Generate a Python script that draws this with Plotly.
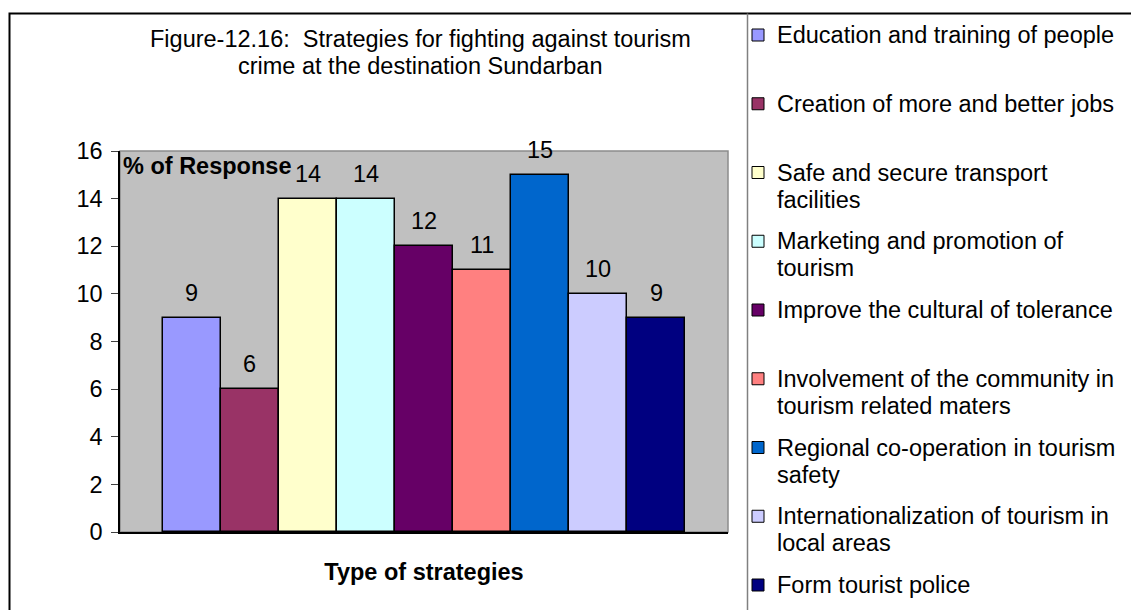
import plotly.graph_objects as go

# ---- data -------------------------------------------------------------
strategies = [
    "Education and training of people",
    "Creation of more and better jobs",
    "Safe and secure transport facilities",
    "Marketing and promotion of tourism",
    "Improve the cultural of tolerance",
    "Involvement of the community in tourism related maters",
    "Regional co-operation in tourism safety",
    "Internationalization of tourism in local areas",
    "Form tourist police",
]
legend_labels = [
    "Education and training of people",
    "Creation of more and better jobs",
    "Safe and secure transport<br>facilities",
    "Marketing and promotion of<br>tourism",
    "Improve the cultural of tolerance",
    "Involvement of the community in<br>tourism related maters",
    "Regional co-operation in tourism<br>safety",
    "Internationalization of tourism in<br>local areas",
    "Form tourist police",
]
response_pct = [9, 6, 14, 14, 12, 11, 15, 10, 9]
bar_colors = ["#9999FF", "#993366", "#FFFFCC", "#CCFFFF", "#660066",
              "#FF8080", "#0066CC", "#CCCCFF", "#000080"]
y_ticks = [0, 2, 4, 6, 8, 10, 12, 14, 16]

title_text = ("Figure-12.16:\u00a0 Strategies for fighting against tourism<br>"
              "crime at the destination Sundarban")
x_title = "Type of strategies"
y_title = "% of Response"

# ---- layout geometry (pixels) -----------------------------------------
W, H = 1131, 610
ML, MR, MT, MB = 120, 403, 151, 78
PW, PH = W - ML - MR, H - MT - MB
FONT = "Arial, 'Liberation Sans', sans-serif"
FS = 23.5
LINE_GAP = 27      # baseline-to-baseline spacing of wrapped text lines
TEXT_TOP = 15      # offset from text-box top to visual line centre


def fx(px):
    return (px - ML) / PW


def fy(py):
    return (H - MB - py) / PH


def text_lines(text, x_px, first_centre_px, xanchor, bold=False):
    """One annotation per line so wrapped text keeps a compact line spacing."""
    out = []
    for k, line in enumerate(text.split("<br>")):
        out.append(dict(
            x=fx(x_px), y=fy(first_centre_px + k * LINE_GAP - TEXT_TOP),
            xref="paper", yref="paper",
            text="<b>" + line + "</b>" if bold else line,
            showarrow=False, xanchor=xanchor, yanchor="top",
            font=dict(family=FONT, size=FS, color="black"),
        ))
    return out


fig = go.Figure()
fig.add_trace(go.Bar(
    x=strategies,
    y=response_pct,
    marker=dict(color=bar_colors, line=dict(color="black", width=1.5)),
    showlegend=False,
    hoverinfo="x+y",
))

annotations = []
# value labels above each bar
for cat, val in zip(strategies, response_pct):
    annotations.append(dict(
        x=cat, y=val, xref="x", yref="y", text=str(val), showarrow=False,
        yanchor="bottom", yshift=10, font=dict(family=FONT, size=FS, color="black"),
    ))

# chart title (two centred lines)
annotations += text_lines(title_text, 420, 39, "center")

# value-axis caption inside the plot area
annotations.append(dict(
    x=fx(121), y=fy(151), xref="paper", yref="paper", text="<b>" + y_title + "</b>",
    showarrow=False, xanchor="left", yanchor="top",
    font=dict(family=FONT, size=FS, color="black"),
))

shapes = []
# outer chart frame
shapes.append(dict(type="rect", xref="paper", yref="paper",
                   x0=fx(9.5), x1=fx(1140), y0=fy(620), y1=fy(13.5),
                   line=dict(color="black", width=2), layer="above"))
# plot-area border
shapes.append(dict(type="rect", xref="paper", yref="paper",
                   x0=0, x1=1, y0=0, y1=1,
                   line=dict(color="#8C8C8C", width=1.5), layer="below"))
# legend box divider
shapes.append(dict(type="line", xref="paper", yref="paper",
                   x0=fx(747.5), x1=fx(747.5), y0=fy(620), y1=fy(13.5),
                   line=dict(color="#808080", width=1.5), layer="above"))

# legend: colour swatch + label for every strategy
for i, (label, color) in enumerate(zip(legend_labels, bar_colors)):
    cy = 35 + i * 68.75
    shapes.append(dict(type="rect", xref="paper", yref="paper",
                       x0=fx(752), x1=fx(764), y0=fy(cy + 6), y1=fy(cy - 6),
                       fillcolor=color, line=dict(color="black", width=1), layer="above"))
    annotations += text_lines(label, 775, cy, "left")

fig.update_layout(
    width=W, height=H,
    margin=dict(l=ML, r=MR, t=MT, b=MB, pad=0),
    paper_bgcolor="white",
    plot_bgcolor="#C0C0C0",
    bargap=0,
    font=dict(family=FONT, size=FS, color="black"),
    annotations=annotations,
    shapes=shapes,
    showlegend=False,
    xaxis=dict(
        type="category", range=[-1.241, 9.241], showticklabels=False,
        ticks="", showgrid=False, zeroline=False,
        showline=True, linecolor="black", linewidth=1.5,
        title=dict(text="<b>" + x_title + "</b>", standoff=31,
                   font=dict(family=FONT, size=FS, color="black")),
        automargin=False, fixedrange=True,
    ),
    yaxis=dict(
        range=[0, 16], tickvals=y_ticks, ticks="outside", ticklen=7,
        tickcolor="#404040", tickwidth=1, showgrid=False, zeroline=False,
        showline=True, linecolor="black", linewidth=1.5,
        tickfont=dict(family=FONT, size=FS, color="black"),
        ticklabelstandoff=4, automargin=False, fixedrange=True,
    ),
)

fig.write_html("out.html")
